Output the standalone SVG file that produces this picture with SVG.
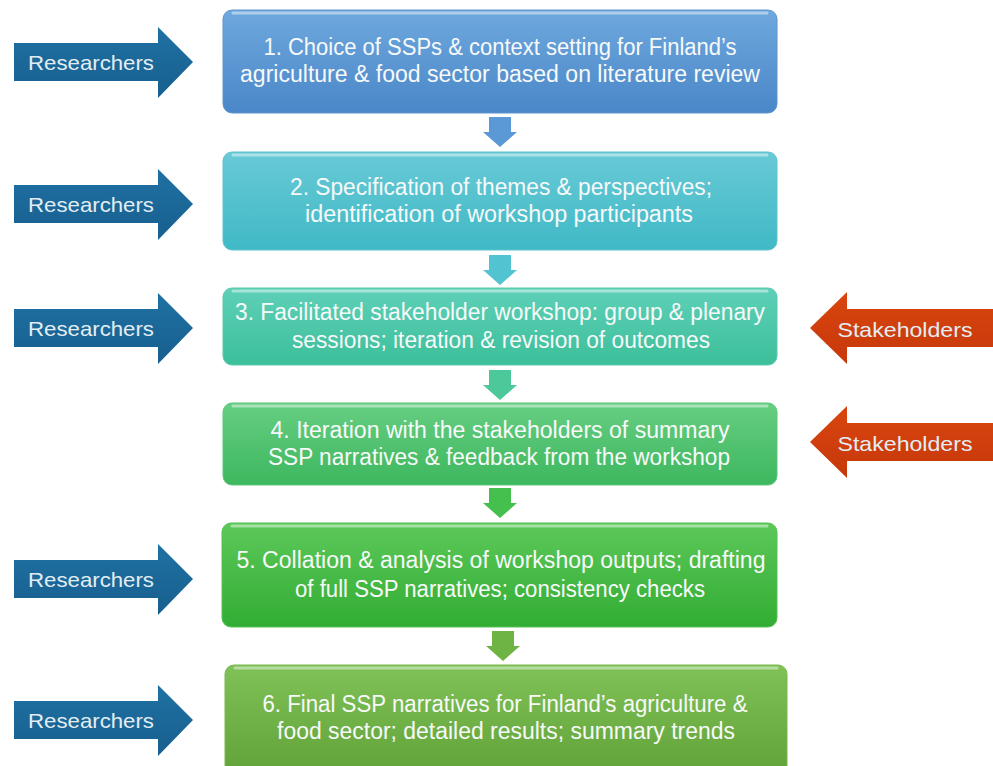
<svg xmlns="http://www.w3.org/2000/svg" width="993" height="766" viewBox="0 0 993 766">
<defs>
<style>
.bt{font-family:"Liberation Sans","Open Sans",Arial,sans-serif;font-size:23.5px;fill:#f7f9f9;text-anchor:middle}
.at{font-family:"Liberation Sans","Open Sans",Arial,sans-serif;font-size:21px;fill:#e3edf3;text-anchor:middle}
.box{stroke-width:1}
.hl{fill:none;stroke:#ffffff;stroke-opacity:0.45;stroke-width:3;stroke-linecap:round}
</style>
<linearGradient id="g1" x1="0" y1="0" x2="0" y2="1"><stop offset="0" stop-color="#6fa8de"/><stop offset="1" stop-color="#4a87c8"/></linearGradient>
<linearGradient id="g2" x1="0" y1="0" x2="0" y2="1"><stop offset="0" stop-color="#68cad6"/><stop offset="1" stop-color="#40b9c6"/></linearGradient>
<linearGradient id="g3" x1="0" y1="0" x2="0" y2="1"><stop offset="0" stop-color="#5ed0b8"/><stop offset="1" stop-color="#3cbf9a"/></linearGradient>
<linearGradient id="g4" x1="0" y1="0" x2="0" y2="1"><stop offset="0" stop-color="#66ce82"/><stop offset="1" stop-color="#3db75e"/></linearGradient>
<linearGradient id="g5" x1="0" y1="0" x2="0" y2="1"><stop offset="0" stop-color="#5cc85a"/><stop offset="1" stop-color="#32ad33"/></linearGradient>
<linearGradient id="g6" x1="0" y1="0" x2="0" y2="1"><stop offset="0" stop-color="#80c257"/><stop offset="1" stop-color="#5e9f36"/></linearGradient>
<linearGradient id="rg" x1="0" y1="0" x2="0" y2="1"><stop offset="0" stop-color="#1f71a3"/><stop offset="1" stop-color="#175f8e"/></linearGradient>
<linearGradient id="sg" x1="0" y1="0" x2="0" y2="1"><stop offset="0" stop-color="#d8450f"/><stop offset="1" stop-color="#c7380a"/></linearGradient>
<path id="ra" d="M14,-19 H158 V-35 L193,0 L158,36 V19 H14 Z"/>
<path id="sa" d="M993,-19 H847 V-36 L810,0 L847,36 V19 H993 Z"/>
<path id="da" d="M-11,0 H11 V15 H17 L0,30 L-17,15 H-11 Z"/>
</defs>

<g id="connectors">
<use href="#da" x="500" y="117" fill="#5b98d6"/>
<use href="#da" x="500" y="255" fill="#52c3d0"/>
<use href="#da" x="500" y="370" fill="#4cc89a"/>
<use href="#da" x="500" y="488" fill="#45bf4e"/>
<use href="#da" x="503" y="631" fill="#6db445"/>
</g>

<g id="node1">
<rect class="box" x="223" y="10" width="554" height="103" rx="9" fill="url(#g1)" stroke="#5d95cc"/>
<line class="hl" x1="233" y1="13" x2="767" y2="13"/>
<text class="bt" x="500" y="55" textLength="473" lengthAdjust="spacingAndGlyphs">1. Choice of SSPs &amp; context setting for Finland’s</text>
<text class="bt" x="500" y="82" textLength="520" lengthAdjust="spacingAndGlyphs">agriculture &amp; food sector based on literature review</text>
</g>

<g id="node2">
<rect class="box" x="223" y="152" width="554" height="98" rx="9" fill="url(#g2)" stroke="#5cc2ce"/>
<line class="hl" x1="233" y1="155" x2="767" y2="155"/>
<text class="bt" x="501" y="195" textLength="422" lengthAdjust="spacingAndGlyphs">2. Specification of themes &amp; perspectives;</text>
<text class="bt" x="499" y="222" textLength="388" lengthAdjust="spacingAndGlyphs">identification of workshop participants</text>
</g>

<g id="node3">
<rect class="box" x="223" y="288" width="554" height="77" rx="9" fill="url(#g3)" stroke="#58c8ae"/>
<line class="hl" x1="233" y1="291" x2="767" y2="291"/>
<text class="bt" x="500" y="320" textLength="530" lengthAdjust="spacingAndGlyphs">3. Facilitated stakeholder workshop: group &amp; plenary</text>
<text class="bt" x="501" y="348" textLength="418" lengthAdjust="spacingAndGlyphs">sessions; iteration &amp; revision of outcomes</text>
</g>

<g id="node4">
<rect class="box" x="223" y="403" width="554" height="82" rx="9" fill="url(#g4)" stroke="#5cc67a"/>
<line class="hl" x1="233" y1="406" x2="767" y2="406"/>
<text class="bt" x="500" y="438" textLength="459" lengthAdjust="spacingAndGlyphs">4. Iteration with the stakeholders of summary</text>
<text class="bt" x="499" y="465" textLength="462" lengthAdjust="spacingAndGlyphs">SSP narratives &amp; feedback from the workshop</text>
</g>

<g id="node5">
<rect class="box" x="222" y="523" width="555" height="104" rx="9" fill="url(#g5)" stroke="#55c055"/>
<line class="hl" x1="232" y1="526" x2="767" y2="526"/>
<text class="bt" x="501" y="568" textLength="529" lengthAdjust="spacingAndGlyphs">5. Collation &amp; analysis of workshop outputs; drafting</text>
<text class="bt" x="500" y="597" textLength="410" lengthAdjust="spacingAndGlyphs">of full SSP narratives; consistency checks</text>
</g>

<g id="node6">
<rect class="box" x="225" y="665" width="562" height="120" rx="9" fill="url(#g6)" stroke="#78b84f"/>
<line class="hl" x1="235" y1="668" x2="777" y2="668"/>
<text class="bt" x="505" y="712" textLength="485" lengthAdjust="spacingAndGlyphs">6. Final SSP narratives for Finland’s agriculture &amp;</text>
<text class="bt" x="506" y="739" textLength="458" lengthAdjust="spacingAndGlyphs">food sector; detailed results; summary trends</text>
</g>

<g id="researchers1">
<use href="#ra" y="62" fill="url(#rg)"/>
<text class="at" x="91" y="70" textLength="126" lengthAdjust="spacingAndGlyphs">Researchers</text>
</g>
<g id="researchers2">
<use href="#ra" y="204" fill="url(#rg)"/>
<text class="at" x="91" y="212" textLength="126" lengthAdjust="spacingAndGlyphs">Researchers</text>
</g>
<g id="researchers3">
<use href="#ra" y="328" fill="url(#rg)"/>
<text class="at" x="91" y="336" textLength="126" lengthAdjust="spacingAndGlyphs">Researchers</text>
</g>
<g id="researchers5">
<use href="#ra" y="579" fill="url(#rg)"/>
<text class="at" x="91" y="587" textLength="126" lengthAdjust="spacingAndGlyphs">Researchers</text>
</g>
<g id="researchers6">
<use href="#ra" y="720" fill="url(#rg)"/>
<text class="at" x="91" y="728" textLength="126" lengthAdjust="spacingAndGlyphs">Researchers</text>
</g>

<g id="stakeholders3">
<use href="#sa" y="328" fill="url(#sg)"/>
<text class="at" x="905" y="337" textLength="135" lengthAdjust="spacingAndGlyphs" fill="#f6ece8">Stakeholders</text>
</g>
<g id="stakeholders4">
<use href="#sa" y="442" fill="url(#sg)"/>
<text class="at" x="905" y="451" textLength="135" lengthAdjust="spacingAndGlyphs" fill="#f6ece8">Stakeholders</text>
</g>
</svg>
